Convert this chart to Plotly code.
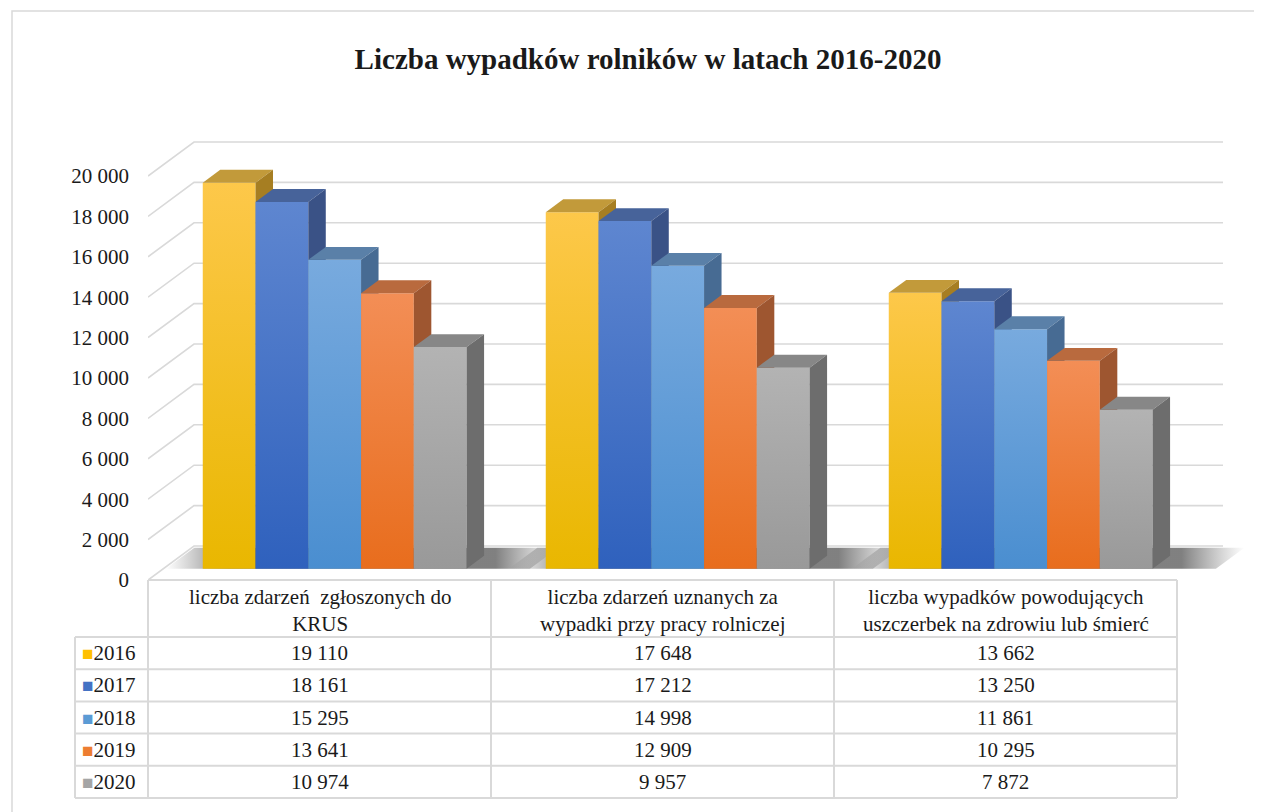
import plotly.graph_objects as go

# ---------------- data ----------------
TITLE = "Liczba wypadków rolników w latach 2016-2020"
categories = [
    "liczba zdarzeń  zgłoszonych do<br>KRUS",
    "liczba zdarzeń uznanych za<br>wypadki przy pracy rolniczej",
    "liczba wypadków powodujących<br>uszczerbek na zdrowiu lub śmierć",
]
years = ["2016", "2017", "2018", "2019", "2020"]
v2016 = [19110, 17648, 13662]
v2017 = [18161, 17212, 13250]
v2018 = [15295, 14998, 11861]
v2019 = [13641, 12909, 10295]
v2020 = [10974, 9957, 7872]
y_tick_values = [0, 2000, 4000, 6000, 8000, 10000, 12000, 14000, 16000, 18000, 20000]

series_values = [v2016, v2017, v2018, v2019, v2020]

# ---------------- styles ----------------
legend_colors = ["#ffc000", "#4472c4", "#5b9bd5", "#ed7d31", "#a5a5a5"]
front_top = ["#fdc84a", "#5e86d0", "#78aade", "#f38e56", "#b3b3b3"]
front_bottom = ["#e9b700", "#2f61bd", "#4a8ed0", "#e86d1d", "#999999"]
top_face = ["#c29a3a", "#47639a", "#5a80a8", "#b96a3e", "#878787"]
side_face = ["#a67e22", "#3a5286", "#476b93", "#9e5630", "#6d6d6d"]
GRID = "#d9d9d9"
TEXT = "#1a1a1a"
SERIF = "Liberation Serif, Times New Roman, serif"

W, H = 1262, 812
OFF = 8                      # page body margin offset
PX_PER_VAL = 0.0202          # pixels per unit of value
FRONT_BASE_PX = 580          # pixel row of value 0 on front plane
GAP = 1.5                    # gap between groups in bar widths
N = len(years)
GROUP = N + GAP
COL_PX = 343                 # pixel width of one category column
SLOT_PX = COL_PX / GROUP
CAT0_CENTER_PX = 148 + COL_PX / 2
DEPTH_DX_PX, DEPTH_DY_PX = 46, 34
F_FRONT, F_BACK = 0.33, 0.71

X_DOM_PX = (148, W + OFF)
Y_DOM_PX = (592, 110)
x_range = [(X_DOM_PX[0] - CAT0_CENTER_PX) / SLOT_PX, (X_DOM_PX[1] - CAT0_CENTER_PX) / SLOT_PX]
y_range = [(FRONT_BASE_PX - Y_DOM_PX[0]) / PX_PER_VAL, (FRONT_BASE_PX - Y_DOM_PX[1]) / PX_PER_VAL]


def ddx(f):
    return f * DEPTH_DX_PX / SLOT_PX


def ddy(f):
    return f * DEPTH_DY_PX / PX_PER_VAL


def u_to_px(u):
    return CAT0_CENTER_PX + u * SLOT_PX


def px_x(p):
    return (p - OFF) / W


def px_y(p):
    return 1 - (p - OFF) / H


fig = go.Figure()

left_u = -GROUP / 2
right_u = left_u + GROUP * len(categories)

# ---------------- walls: gridlines ----------------
gx, gy = [], []
for t in y_tick_values:
    gx += [left_u, left_u + ddx(1), right_u + ddx(1), None]
    gy += [t, t + ddy(1), t + ddy(1), None]
fig.add_trace(go.Scatter(x=gx, y=gy, mode="lines", line=dict(color=GRID, width=1.6),
                         hoverinfo="skip", showlegend=False))

# ---------------- floor shadows ----------------
for i in range(len(categories)):
    c = GROUP * i
    u0 = c - N / 2 - 0.7
    u1 = c + N / 2 + 1.2
    f0, f1 = F_FRONT, 0.95
    sx = [u0 + ddx(f0), u1 + ddx(f0), u1 + ddx(f1), u0 + ddx(f1), u0 + ddx(f0)]
    sy = [ddy(f0), ddy(f0), ddy(f1), ddy(f1), ddy(f0)]
    fig.add_trace(go.Scatter(
        x=sx, y=sy, mode="lines", fill="toself", line=dict(width=0),
        fillgradient=dict(type="horizontal", colorscale=[
            [0, "rgba(90,90,90,0)"], [0.16, "rgba(60,60,60,0.65)"],
            [0.84, "rgba(60,60,60,0.65)"], [1, "rgba(90,90,90,0)"]]),
        hoverinfo="skip", showlegend=False))

# ---------------- 3D bars ----------------
bdx = ddx(F_BACK) - ddx(F_FRONT)
bdy = ddy(F_BACK) - ddy(F_FRONT)
for i in range(len(categories)):
    for j, vals in enumerate(series_values):
        v = vals[i]
        u0 = GROUP * i - N / 2 + j + ddx(F_FRONT)
        u1 = u0 + 1
        b = ddy(F_FRONT)
        # front face
        fig.add_trace(go.Scatter(
            x=[u0, u1, u1, u0, u0], y=[b, b, b + v, b + v, b],
            mode="lines", fill="toself", line=dict(width=0),
            fillgradient=dict(type="vertical",
                              colorscale=[[0, front_bottom[j]], [1, front_top[j]]]),
            name=years[j], hoverinfo="skip", showlegend=False))
        # top face
        fig.add_trace(go.Scatter(
            x=[u0, u1, u1 + bdx, u0 + bdx, u0],
            y=[b + v, b + v, b + v + bdy, b + v + bdy, b + v],
            mode="lines", fill="toself", fillcolor=top_face[j], line=dict(width=0),
            hoverinfo="skip", showlegend=False))
        # side face
        fig.add_trace(go.Scatter(
            x=[u1, u1 + bdx, u1 + bdx, u1, u1],
            y=[b, b + bdy, b + bdy + v, b + v, b],
            mode="lines", fill="toself", fillcolor=side_face[j], line=dict(width=0),
            hoverinfo="skip", showlegend=False))

# ---------------- table (shapes + annotations) ----------------
HEADER_TOP, HEADER_BOT = 580, 637
ROW_H = 32.2
LEG_LEFT = 75
table_left_px = u_to_px(left_u)
table_right_px = u_to_px(right_u)
row_lines = [HEADER_BOT + ROW_H * k for k in range(N + 1)]
shapes = []
line_style = dict(color=GRID, width=2)
shapes.append(dict(type="line", xref="paper", yref="paper",
                   x0=px_x(table_left_px), x1=px_x(table_right_px),
                   y0=px_y(HEADER_TOP), y1=px_y(HEADER_TOP), line=line_style))
for ry in row_lines:
    shapes.append(dict(type="line", xref="paper", yref="paper",
                       x0=px_x(LEG_LEFT), x1=px_x(table_right_px),
                       y0=px_y(ry), y1=px_y(ry), line=line_style))
for k in range(len(categories) + 1):
    xx = u_to_px(left_u + GROUP * k)
    shapes.append(dict(type="line", xref="paper", yref="paper",
                       x0=px_x(xx), x1=px_x(xx),
                       y0=px_y(HEADER_TOP), y1=px_y(row_lines[-1]), line=line_style))
shapes.append(dict(type="line", xref="paper", yref="paper",
                   x0=px_x(LEG_LEFT), x1=px_x(LEG_LEFT),
                   y0=px_y(HEADER_BOT), y1=px_y(row_lines[-1]), line=line_style))
# outer chart border
shapes.append(dict(type="rect", xref="paper", yref="paper",
                   x0=px_x(12), x1=px_x(W + 40), y0=px_y(11), y1=px_y(H + 40),
                   line=dict(color=GRID, width=1.5), layer="below"))

annotations = []
for i, cat in enumerate(categories):
    cx = u_to_px(GROUP * i)
    annotations.append(dict(text=cat, xref="paper", yref="paper",
                            x=px_x(cx), y=px_y((HEADER_TOP + HEADER_BOT) / 2 + 2),
                            xanchor="center", yanchor="middle", showarrow=False,
                            font=dict(family=SERIF, size=21, color=TEXT)))
    for j, vals in enumerate(series_values):
        cy = (row_lines[j] + row_lines[j + 1]) / 2
        annotations.append(dict(text=f"{vals[i]:,}".replace(",", " "), xref="paper", yref="paper",
                                x=px_x(cx), y=px_y(cy), xanchor="center", yanchor="middle",
                                showarrow=False, font=dict(family=SERIF, size=21, color=TEXT)))
for j, yr in enumerate(years):
    cy = (row_lines[j] + row_lines[j + 1]) / 2
    annotations.append(dict(
        text=f'<span style="color:{legend_colors[j]};font-size:19px">■</span>{yr}',
        xref="paper", yref="paper", x=px_x(LEG_LEFT + 5), y=px_y(cy),
        xanchor="left", yanchor="middle", showarrow=False,
        font=dict(family=SERIF, size=21, color=TEXT)))

fig.update_layout(
    width=W, height=H,
    margin=dict(l=0, r=0, t=0, b=0),
    paper_bgcolor="white", plot_bgcolor="rgba(0,0,0,0)",
    title=dict(text=f"<b>{TITLE}</b>", x=px_x(648), xanchor="center",
               y=px_y(59), yanchor="middle",
               font=dict(family=SERIF, size=29, color=TEXT)),
    xaxis=dict(domain=[max(0, px_x(X_DOM_PX[0])), 1], range=x_range,
               showgrid=False, zeroline=False, showticklabels=False, fixedrange=True),
    yaxis=dict(domain=[px_y(Y_DOM_PX[0]), px_y(Y_DOM_PX[1])], range=y_range,
               showgrid=False, zeroline=False, tickvals=y_tick_values,
               ticktext=[f"{t:,}".replace(",", " ") for t in y_tick_values],
               tickfont=dict(family=SERIF, size=21, color=TEXT),
               ticks="", ticklabelstandoff=18, fixedrange=True),
    shapes=shapes,
    annotations=annotations,
    showlegend=False,
)

fig.write_html("out.html")
